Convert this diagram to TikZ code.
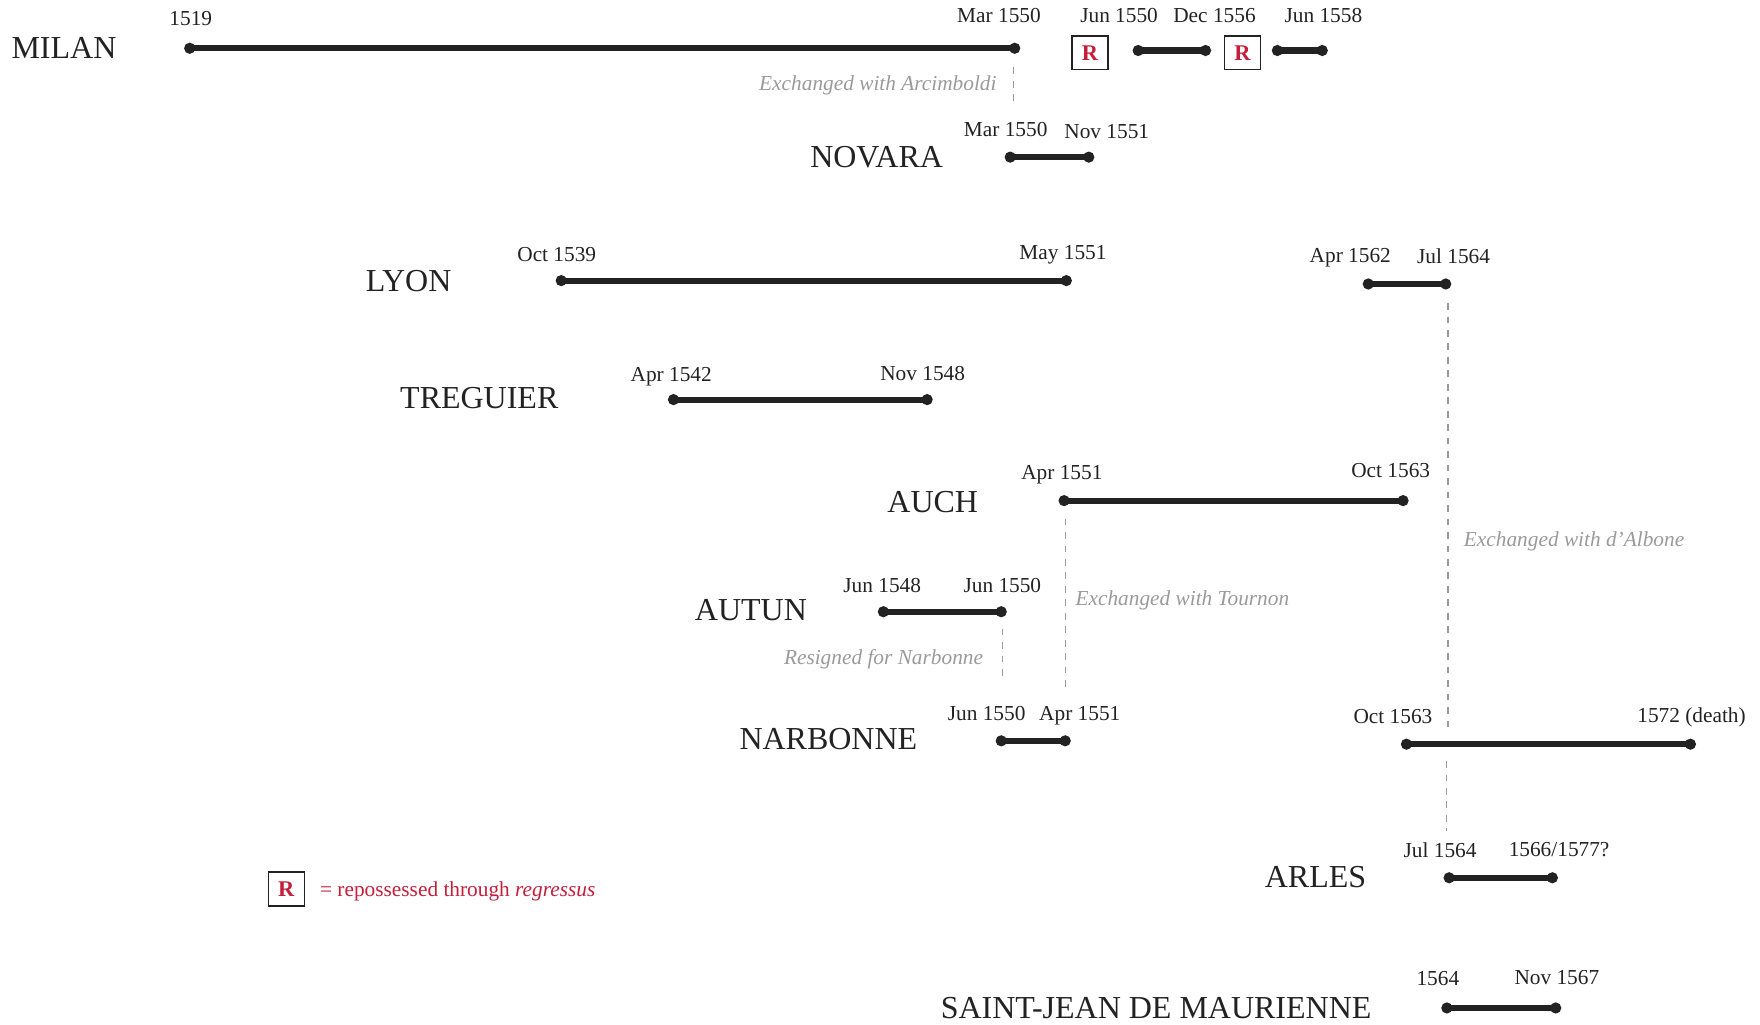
\documentclass[tikz,border=0pt]{standalone}
\usepackage{fontspec}
\setmainfont{Liberation Serif}
\definecolor{ink}{HTML}{222222}
\definecolor{rred}{HTML}{C41E3A}
\definecolor{note}{HTML}{9A9A9A}
\begin{document}
\begin{tikzpicture}[x=1pt,y=-1pt,
  seg/.style={line width=5.4pt, ink},
  dot/.style={circle, fill=ink, inner sep=0pt, minimum size=10pt},
  date/.style={font=\fontsize{19}{19}\selectfont, text=ink, anchor=base, inner sep=0pt},
  see/.style={font=\fontsize{28.5}{28.5}\selectfont, text=ink, anchor=base, inner sep=0pt},
  noteline/.style={note, dash pattern=on 6pt off 6pt, line width=1.1pt},
  notetxt/.style={font=\fontsize{19}{19}\itshape\selectfont, text=note, inner sep=0pt},
  rbox/.style={draw=ink, line width=1.2pt, minimum width=32pt, minimum height=30pt, inner sep=0pt, text=rred, font=\fontsize{20}{20}\bfseries\selectfont}
]
\useasboundingbox (0,0) rectangle (1568,913);

% ---------- MILAN ----------
\node[see] (milan) at (57,52) {MILAN};
\coordinate (mi1) at (169,43);
\coordinate (mi2) at (904,43);
\coordinate (mi3) at (1014,45);
\coordinate (mi4) at (1074,45);
\coordinate (mi5) at (1138,45);
\coordinate (mi6) at (1178,45);
\draw[seg] (mi1) -- (mi2);
\draw[seg] (mi3) -- (mi4);
\draw[seg] (mi5) -- (mi6);
\foreach \p in {mi1,mi2,mi3,mi4,mi5,mi6} \node[dot] at (\p) {};
\node[date] (d-mi1) at (170,23) {1519};
\node[date] (d-mi2) at (890,20) {Mar 1550};
\node[date] (d-mi3) at (997,20) {Jun 1550};
\node[date] (d-mi4) at (1082,20) {Dec 1556};
\node[date] (d-mi5) at (1179,20) {Jun 1558};
\node[rbox] (r1) at (971,47) {R};
\node[rbox] (r2) at (1107,47) {R};
\coordinate (ex1a) at (903,60);
\coordinate (ex1b) at (903,96);
\draw[noteline] (ex1a) -- (ex1b);
\node[notetxt, anchor=base east] (n1) at (888,81) {Exchanged with Arcimboldi};

% ---------- NOVARA ----------
\node[see] (novara) at (781,149) {NOVARA};
\coordinate (no1) at (900,140);
\coordinate (no2) at (970,140);
\draw[seg] (no1) -- (no2);
\foreach \p in {no1,no2} \node[dot] at (\p) {};
\node[date] (d-no1) at (896,122) {Mar 1550};
\node[date] (d-no2) at (986,123) {Nov 1551};

% ---------- LYON ----------
\node[see] (lyon) at (364,260) {LYON};
\coordinate (ly1) at (500,250);
\coordinate (ly2) at (950,250);
\coordinate (ly3) at (1219,253);
\coordinate (ly4) at (1288,253);
\draw[seg] (ly1) -- (ly2);
\draw[seg] (ly3) -- (ly4);
\foreach \p in {ly1,ly2,ly3,ly4} \node[dot] at (\p) {};
\node[date] (d-ly1) at (496,233) {Oct 1539};
\node[date] (d-ly2) at (947,231) {May 1551};
\node[date] (d-ly3) at (1203,234) {Apr 1562};
\node[date] (d-ly4) at (1295,235) {Jul 1564};

% ---------- TREGUIER ----------
\node[see] (treguier) at (427,364) {TREGUIER};
\coordinate (tr1) at (600,356);
\coordinate (tr2) at (826,356);
\draw[seg] (tr1) -- (tr2);
\foreach \p in {tr1,tr2} \node[dot] at (\p) {};
\node[date] (d-tr1) at (598,340) {Apr 1542};
\node[date] (d-tr2) at (822,339) {Nov 1548};

% ---------- AUCH ----------
\node[see] (auch) at (831,457) {AUCH};
\coordinate (au1) at (948,446);
\coordinate (au2) at (1250,446);
\draw[seg] (au1) -- (au2);
\foreach \p in {au1,au2} \node[dot] at (\p) {};
\node[date] (d-au1) at (946,427) {Apr 1551};
\node[date] (d-au2) at (1239,425) {Oct 1563};

% ---------- AUTUN ----------
\node[see] (autun) at (669,553) {AUTUN};
\coordinate (at1) at (787,545);
\coordinate (at2) at (892,545);
\draw[seg] (at1) -- (at2);
\foreach \p in {at1,at2} \node[dot] at (\p) {};
\node[date] (d-at1) at (786,528) {Jun 1548};
\node[date] (d-at2) at (893,528) {Jun 1550};

% ---------- NARBONNE ----------
\node[see] (narbonne) at (738,668) {NARBONNE};
\coordinate (na1) at (892,660);
\coordinate (na2) at (949,660);
\coordinate (na3) at (1253,663);
\coordinate (na4) at (1506,663);
\draw[seg] (na1) -- (na2);
\draw[seg] (na3) -- (na4);
\foreach \p in {na1,na2,na3,na4} \node[dot] at (\p) {};
\node[date] (d-na1) at (879,642) {Jun 1550};
\node[date] (d-na2) at (962,642) {Apr 1551};
\node[date] (d-na3) at (1241,645) {Oct 1563};
\node[date] (d-na4) at (1507,644) {1572 (death)};

% ---------- ARLES ----------
\node[see] (arles) at (1172,791) {ARLES};
\coordinate (ar1) at (1291,782);
\coordinate (ar2) at (1383,782);
\draw[seg] (ar1) -- (ar2);
\foreach \p in {ar1,ar2} \node[dot] at (\p) {};
\node[date] (d-ar1) at (1283,764) {Jul 1564};
\node[date] (d-ar2) at (1389,763) {1566/1577?};

% ---------- SAINT-JEAN DE MAURIENNE ----------
\node[see] (sjm) at (1030,907) {SAINT-JEAN DE MAURIENNE};
\coordinate (sj1) at (1289,898);
\coordinate (sj2) at (1386,898);
\draw[seg] (sj1) -- (sj2);
\foreach \p in {sj1,sj2} \node[dot] at (\p) {};
\node[date] (d-sj1) at (1281,878) {1564};
\node[date] (d-sj2) at (1387,877) {Nov 1567};

% ---------- exchange notes ----------
\coordinate (ex2a) at (949,462);
\coordinate (ex2b) at (949,612);
\draw[noteline] (ex2a) -- (ex2b);
\node[notetxt, anchor=base west] (n2) at (958,539) {Exchanged with Tournon};

\coordinate (ex3a) at (893,560);
\coordinate (ex3b) at (893,608);
\draw[noteline] (ex3a) -- (ex3b);
\node[notetxt, anchor=base east] (n3) at (876,592) {Resigned for Narbonne};

\coordinate (ex4a) at (1290,270);
\coordinate (ex4b) at (1290,650);
\coordinate (ex4c) at (1289,678);
\coordinate (ex4d) at (1289,740);
\draw[noteline] (ex4a) -- (ex4b);
\draw[noteline] (ex4c) -- (ex4d);
\node[notetxt, anchor=base west] (n4) at (1304,487) {Exchanged with d’Albone};

% ---------- legend ----------
\node[rbox] (rleg) at (255,792) {R};
\node[font=\fontsize{19}{19}\selectfont, text=rred, anchor=base west, inner sep=0pt] (leg) at (285,799) {= repossessed through \textit{regressus}};
\end{tikzpicture}
\end{document}
